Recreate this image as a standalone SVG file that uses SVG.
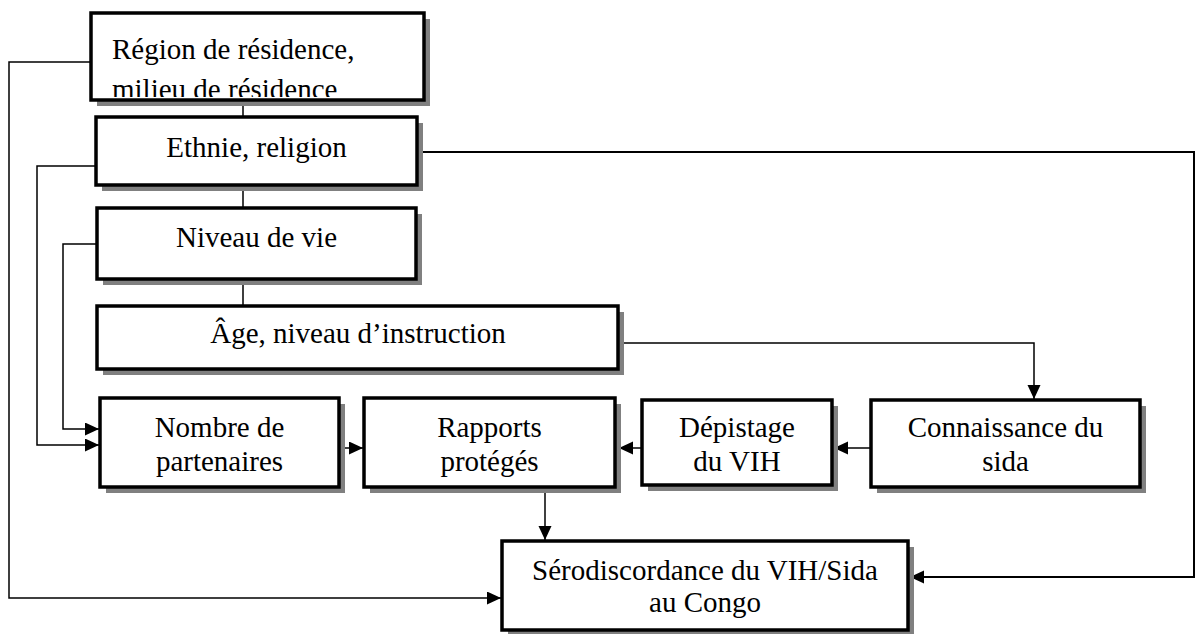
<svg xmlns="http://www.w3.org/2000/svg" width="1195" height="634" viewBox="0 0 1195 634">
<style>
.sh{fill:#808080;stroke:none}
.bx{fill:#fff;stroke:#000;stroke-width:3.5}
.t{font-family:"Liberation Serif","Times New Roman",serif;font-size:29px;fill:#000}
.c{text-anchor:middle}
.ln{fill:none;stroke:#000;stroke-width:1.5}
</style>
<defs>
<marker id="ah" markerUnits="userSpaceOnUse" markerWidth="16" markerHeight="14" refX="14" refY="6.5" orient="auto">
<path d="M0,0 L14,6.5 L0,13 Z" fill="#000"/>
</marker>
<clipPath id="clipR"><rect x="93" y="15" width="329" height="82"/></clipPath>
</defs>
<rect x="0" y="0" width="1195" height="634" fill="#fff"/>
<g id="connectors">
<path class="ln" d="M243,100 V117 M243,185 V208 M243,279 V306"/>
<path class="ln" d="M91,62 H9 V598 H501" marker-end="url(#ah)"/>
<path class="ln" d="M96,166 H37 V445 H99" marker-end="url(#ah)"/>
<path class="ln" d="M97,244 H63 V429 H99" marker-end="url(#ah)"/>
<path class="ln" style="stroke-width:2" d="M417,152 H1194 V577 H910" marker-end="url(#ah)"/>
<path class="ln" d="M618,343 H1034 V399" marker-end="url(#ah)"/>
<path class="ln" d="M871,448 H834" marker-end="url(#ah)"/>
<path class="ln" d="M642,448 H619" marker-end="url(#ah)"/>
<path class="ln" d="M339,448 H363" marker-end="url(#ah)"/>
<path class="ln" d="M545,487 V540" marker-end="url(#ah)"/>
</g>
<g id="n-region">
<rect class="sh" x="97" y="19" width="333" height="87"/>
<rect class="bx" x="91" y="13" width="333" height="87"/>
<g clip-path="url(#clipR)">
<text class="t" x="112" y="59">Région de résidence,</text>
<text class="t" x="112" y="99">milieu de résidence</text>
</g>
</g>
<g id="n-ethnie">
<rect class="sh" x="102" y="123" width="321" height="68"/>
<rect class="bx" x="96" y="117" width="321" height="68"/>
<text class="t c" x="256.5" y="157">Ethnie, religion</text>
</g>
<g id="n-niveau">
<rect class="sh" x="103" y="214" width="319" height="71"/>
<rect class="bx" x="97" y="208" width="319" height="71"/>
<text class="t c" x="256.5" y="247">Niveau de vie</text>
</g>
<g id="n-age">
<rect class="sh" x="103" y="312" width="521" height="63"/>
<rect class="bx" x="97" y="306" width="521" height="63"/>
<text class="t c" x="358" y="343">Âge, niveau d’instruction</text>
</g>
<g id="n-nombre">
<rect class="sh" x="106" y="404" width="239" height="89"/>
<rect class="bx" x="100" y="398" width="239" height="89"/>
<text class="t c" x="219.5" y="437">Nombre de</text>
<text class="t c" x="219.5" y="471">partenaires</text>
</g>
<g id="n-rapports">
<rect class="sh" x="370" y="404" width="251" height="89"/>
<rect class="bx" x="364" y="398" width="251" height="89"/>
<text class="t c" x="489.5" y="437">Rapports</text>
<text class="t c" x="489.5" y="471">protégés</text>
</g>
<g id="n-depistage">
<rect class="sh" x="648" y="406" width="190" height="85"/>
<rect class="bx" x="642" y="400" width="190" height="85"/>
<text class="t c" x="737" y="437">Dépistage</text>
<text class="t c" x="737" y="471">du VIH</text>
</g>
<g id="n-connaissance">
<rect class="sh" x="877" y="406" width="269" height="87"/>
<rect class="bx" x="871" y="400" width="269" height="87"/>
<text class="t c" x="1005.5" y="437">Connaissance du</text>
<text class="t c" x="1005.5" y="471">sida</text>
</g>
<g id="n-sero">
<rect class="sh" x="508" y="547" width="406" height="89"/>
<rect class="bx" x="502" y="541" width="406" height="89"/>
<text class="t c" x="705" y="580">Sérodiscordance du VIH/Sida</text>
<text class="t c" x="705" y="612">au Congo</text>
</g>
</svg>
